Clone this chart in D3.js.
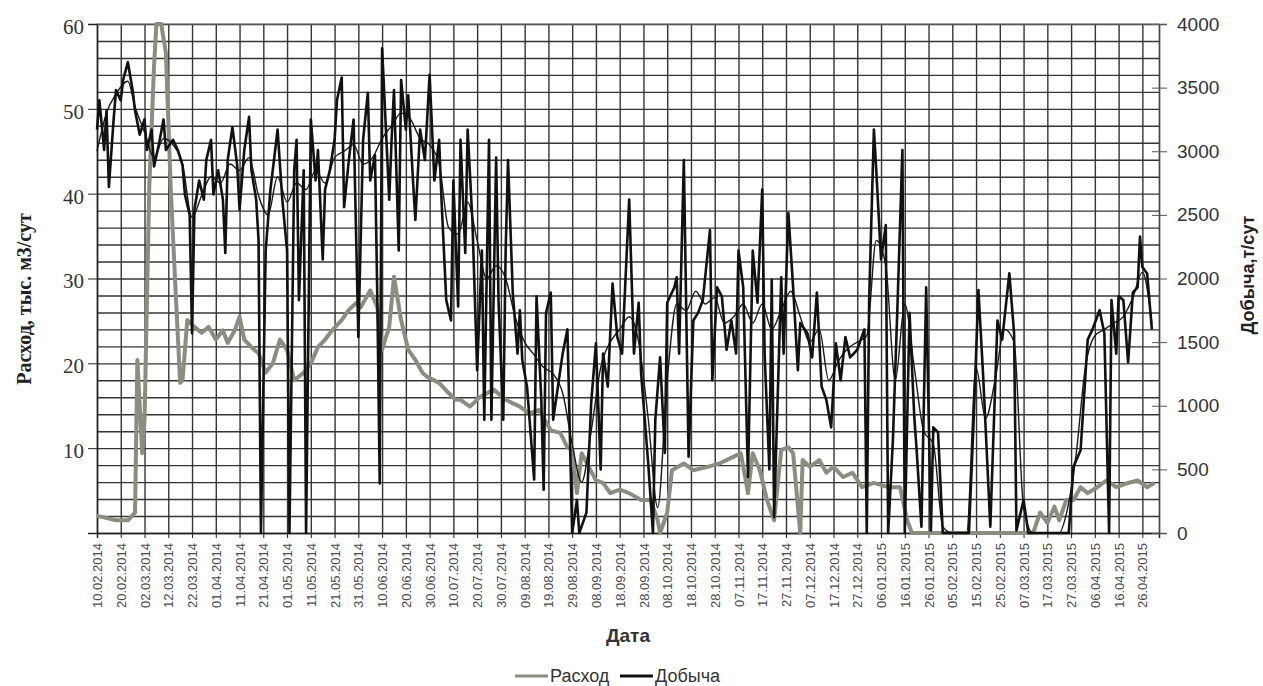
<!DOCTYPE html>
<html>
<head>
<meta charset="utf-8">
<script src="https://cdnjs.cloudflare.com/ajax/libs/d3/7.8.5/d3.min.js"></script>
<style>
  body { margin: 0; background: #fff; }
  svg { display: block; }
</style>
</head>
<body>
<div id="chart"></div>
<script>
// start of the series, data are [day offset, value]
var startDate = new Date(Date.UTC(2014, 1, 10));
var lastDay = 447;

// Расход, тыс. м3/сут (left axis)
var raskhod = [[0,2],[2,1.9],[8,1.5],[13,1.5],[16,2.4],[17,20.4],[18,15],[19,9.4],[20,13.3],[22,40.8],[24,55],[25,60],
  [27,60],[29,56.6],[31,40.8],[33,29],[35,17.7],[36,18],[38,25.1],[41,24.3],[44,23.6],[47,24.3],[50,22.8],[53,23.9],
  [55,22.4],[58,23.9],[60,25.5],[62,22.8],[65,21.9],[68,21.2],[71,18.9],[74,20],[77,22.8],[80,21.6],[83,18],[87,18.9],
  [90,20],[93,21.9],[96,22.8],[99,23.9],[103,25.1],[106,26.3],[109,27.1],[111,26.6],[115,28.6],[118,26.6],[120,21.6],
  [123,24.3],[125,30.2],[128,25.1],[131,21.6],[134,20.4],[137,18.9],[139,18.4],[144,17.7],[148,16.5],[151,15.7],
  [153,15.7],[157,14.9],[161,16],[167,16.9],[172,15.7],[178,14.9],[182,14.1],[186,14.5],[191,12.1],[195,11.8],
  [198,10.1],[200,9.8],[202,4.7],[204,9.4],[207,7.8],[210,6.2],[213,5.9],[216,4.7],[220,5.1],[224,4.7],[229,3.9],
  [233,3.9],[236,1.5],[237,0],[240,2.4],[242,7.4],[247,8.2],[251,7.4],[257,7.8],[262,8.2],[268,9],[271,9.4],[274,4.7],
  [276,9.4],[279,7.4],[282,3.9],[285,1.5],[288,9.8],[291,10.1],[293,9.4],[296,0],[297,8.6],[300,7.8],[304,8.6],
  [307,7.1],[310,7.8],[314,6.6],[318,7.1],[322,5.4],[327,5.9],[333,5.4],[338,5.4],[341,1.5],[343,0],[394,0],[397,2.4],
  [400,1.2],[403,3.1],[405,1.5],[408,3.9],[411,3.9],[414,5.4],[417,4.7],[421,5.4],[425,6.2],[429,5.4],[434,5.9],
  [438,6.2],[442,5.4],[445,5.9]];

// Добыча, т/сут (right axis)
var dobycha = [[0,3170],[1,3400],[3,3010],[4,3320],[5,2720],[7,3250],[8,3480],[10,3400],[11,3560],[13,3700],[15,3480],
  [16,3320],[18,3130],[20,3250],[21,3010],[23,3170],[24,2880],[26,3050],[28,3250],[29,3010],[32,3090],[34,3010],
  [36,2890],[37,2660],[39,2500],[40,1570],[41,2540],[43,2770],[45,2620],[46,2930],[48,3090],[49,2660],[51,2850],
  [53,2620],[54,2200],[55,2930],[57,3190],[59,2890],[60,2540],[62,3010],[64,3270],[65,2850],[67,2620],[68,2300],
  [69,0],[71,2220],[73,2700],[75,3010],[76,3170],[78,2620],[80,2220],[81,0],[83,2850],[84,3090],[85,1830],[87,2850],
  [88,0],[90,3250],[92,2770],[93,3010],[95,2150],[96,2700],[98,2850],[100,3090],[101,3400],[103,3580],[104,2560],
  [106,2930],[108,3250],[110,1540],[112,3090],[114,3460],[115,2770],[117,2970],[118,1830],[119,390],[120,3810],
  [123,2620],[124,3090],[125,3480],[127,2220],[128,3560],[130,3170],[131,3440],[133,2770],[134,2460],[136,3170],
  [138,2930],[140,3600],[142,2770],[144,3090],[145,2620],[147,1830],[149,1670],[150,2770],[152,1780],[153,3090],
  [155,2200],[156,3170],[158,2460],[160,1280],[162,2220],[163,890],[165,3090],[166,890],[168,2950],[169,1830],
  [171,890],[172,2220],[173,2930],[175,1890],[177,1410],[178,1750],[179,1360],[181,1150],[184,420],[185,1860],
  [187,1050],[188,340],[189,1730],[191,1890],[192,890],[194,1150],[196,1410],[198,1600],[200,0],[202,260],[203,0],
  [206,160],[208,1020],[210,1490],[212,500],[213,1410],[215,1150],[217,1960],[219,1540],[221,1410],[224,2620],
  [226,1410],[228,1810],[229,1260],[232,550],[234,0],[235,890],[237,1380],[239,630],[240,1810],[243,1930],[244,2010],
  [245,1410],[247,2930],[249,600],[251,1670],[253,1730],[255,1830],[258,2380],[259,1200],[261,1930],[263,1860],
  [265,1440],[267,1670],[269,1410],[270,2220],[272,1930],[274,440],[276,2220],[278,1810],[280,2700],[281,1410],
  [283,500],[284,1990],[285,125],[288,2010],[289,1410],[291,2515],[293,1930],[295,1280],[296,1650],[299,1570],
  [301,1380],[303,1890],[305,1150],[307,1045],[309,830],[311,1490],[313,1200],[315,1540],[317,1380],[320,1440],
  [323,1600],[324,0],[325,1830],[327,3170],[328,2850],[330,2150],[332,2420],[333,0],[335,730],[337,1830],[339,3010],
  [340,0],[342,1730],[344,910],[345,650],[347,50],[349,1930],[351,20],[352,830],[354,790],[356,0],[367,0],[369,890],
  [371,1910],[373,1230],[376,50],[379,1670],[381,1520],[384,2040],[386,1570],[387,20],[390,260],[392,0],[409,0],
  [411,520],[414,650],[417,1520],[419,1600],[422,1750],[424,1570],[426,0],[427,1830],[429,1410],[430,1860],[432,1830],
  [434,1340],[436,1890],[438,1930],[439,2330],[440,2090],[442,2040],[444,1600]];

// thinner companion line of Добыча seen under the main one (no legend entry)
var dobychaThin = [[0,3000],[4,3300],[8,3450],[13,3550],[16,3350],[20,3150],[24,2950],[28,3100],[32,3050],[36,2900],
  [40,2480],[44,2650],[48,2800],[52,2750],[56,2900],[60,2850],[64,2950],[68,2650],[72,2500],[76,2800],[80,2600],
  [84,2750],[88,2700],[92,2850],[96,2750],[100,2950],[104,3000],[108,3050],[112,2900],[116,2950],[120,3100],
  [124,3200],[128,3300],[132,3250],[136,3100],[140,3050],[144,2900],[148,2400],[152,2350],[156,2600],[160,2300],
  [164,2000],[168,2100],[172,2000],[176,1700],[180,1500],[184,1400],[188,1300],[192,1250],[196,1100],[200,700],
  [204,400],[208,800],[212,1300],[216,1500],[220,1600],[224,1700],[228,1500],[232,900],[236,200],[240,1200],
  [244,1800],[248,1750],[252,1900],[256,1800],[260,1850],[264,1650],[268,1700],[272,1800],[276,1650],[280,1800],
  [284,1600],[288,1750],[292,1900],[296,1700],[300,1500],[304,1600],[308,1200],[312,1350],[316,1450],[320,1500],
  [324,1550],[328,2300],[332,2100],[336,1200],[340,1800],[344,1300],[348,800],[352,700],[356,50],[360,0],[366,0],
  [370,1300],[374,900],[378,1200],[382,1600],[386,1500],[390,200],[394,0],[405,0],[408,150],[412,600],[416,1300],
  [420,1550],[424,1600],[428,1650],[432,1700],[436,1850],[440,2050],[444,1650]];

var leftTicks = [10, 20, 30, 40, 50, 60];
var rightTicks = [0, 500, 1000, 1500, 2000, 2500, 3000, 3500, 4000];
var tickDays = d3.range(0, 441, 10);
var seriesNames = ["Расход", "Добыча"];

var W = 1263, H = 686;
var margin = {top: 24, right: 104, bottom: 153, left: 97};
var width = W - margin.left - margin.right,
    height = H - margin.top - margin.bottom;

var svg = d3.select("#chart").append("svg")
    .attr("width", W)
    .attr("height", H);
var g = svg.append("g")
    .attr("transform", "translate(" + margin.left + "," + margin.top + ")");

var day = function(d){ return d3.utcDay.offset(startDate, d); };

var x = d3.scaleUtc().domain([startDate, day(lastDay)]).range([0, width]);
var yL = d3.scaleLinear().domain([0, 60]).range([height, 0]);
var yR = d3.scaleLinear().domain([0, 4000]).range([height, 0]);

// grid: horizontal every 2 units on the left axis, vertical every 10 days
g.append("g").attr("class", "grid")
  .call(d3.axisLeft(yL).tickValues(d3.range(0, 61, 2)).tickSize(-width).tickFormat(""))
  .call(function(s){ s.select(".domain").remove(); })
  .selectAll("line").attr("stroke", "#353535").attr("stroke-width", 1.4);

g.append("g").attr("class", "grid")
  .attr("transform", "translate(0," + height + ")")
  .call(d3.axisBottom(x).tickValues(tickDays.concat([lastDay]).map(day)).tickSize(-height).tickFormat(""))
  .call(function(s){ s.select(".domain").remove(); })
  .selectAll("line").attr("stroke", "#353535").attr("stroke-width", 1.4);

// X axis
var xAxis = g.append("g")
  .attr("transform", "translate(0," + height + ")")
  .call(d3.axisBottom(x).tickValues(tickDays.map(day)).tickSize(5).tickFormat(d3.utcFormat("%d.%m.%Y")));
xAxis.select(".domain").attr("stroke", "#222").attr("stroke-width", 1.5);
xAxis.selectAll("line").attr("stroke", "#222");
xAxis.selectAll("text")
  .attr("transform", "rotate(-90)")
  .attr("x", -10).attr("y", 0).attr("dy", "0.35em")
  .style("text-anchor", "end")
  .style("font-family", "Arial, 'Liberation Sans', sans-serif")
  .style("font-size", "13px")
  .attr("fill", "#4a4a4a");

// left axis
var lAxis = g.append("g")
  .call(d3.axisLeft(yL).tickValues(leftTicks).tickSize(9).tickPadding(4));
lAxis.select(".domain").attr("stroke", "#222").attr("stroke-width", 1.5);
lAxis.selectAll("line").attr("stroke", "#222");
lAxis.selectAll("text")
  .attr("dy", "0.45em")
  .style("font-family", "'Liberation Serif', 'Times New Roman', serif")
  .style("font-size", "21px")
  .attr("fill", "#333");

// right axis
var rAxis = g.append("g")
  .attr("transform", "translate(" + width + ",0)")
  .call(d3.axisRight(yR).tickValues(rightTicks).tickSize(8).tickPadding(10).tickFormat(d3.format("d")));
rAxis.select(".domain").attr("stroke", "#444").attr("stroke-width", 1.3);
rAxis.selectAll(".tick line").attr("x1", -7).attr("stroke", "#555");
rAxis.selectAll("text")
  .style("font-family", "Arial, 'Liberation Sans', sans-serif")
  .style("font-size", "19px")
  .attr("fill", "#333");

// top border
g.append("line").attr("x1", 0).attr("x2", width).attr("y1", 0).attr("y2", 0)
  .attr("stroke", "#777").attr("stroke-width", 1.2);

// lines
var lineL = d3.line().x(function(d){ return x(day(d[0])); }).y(function(d){ return yL(d[1]); });
var lineR = d3.line().x(function(d){ return x(day(d[0])); }).y(function(d){ return yR(d[1]); });

g.append("path").datum(raskhod)
  .attr("d", lineL).attr("fill", "none")
  .attr("stroke", "#8c8c80").attr("stroke-width", 4).attr("stroke-linejoin", "round");

g.append("path").datum(dobychaThin)
  .attr("d", lineR.curve(d3.curveMonotoneX)).attr("fill", "none")
  .attr("stroke", "#1a1a1a").attr("stroke-width", 1.4).attr("stroke-linejoin", "round");
lineR.curve(d3.curveLinear);

g.append("path").datum(dobycha)
  .attr("d", lineR).attr("fill", "none")
  .attr("stroke", "#111").attr("stroke-width", 2.6).attr("stroke-linejoin", "round");

// axis titles
svg.append("text")
  .attr("transform", "translate(31,299) rotate(-90)")
  .attr("text-anchor", "middle")
  .style("font-family", "'Liberation Serif', 'Times New Roman', serif")
  .style("font-weight", "bold").style("font-size", "20px")
  .attr("fill", "#222")
  .text("Расход, тыс. м3/сут");

svg.append("text")
  .attr("transform", "translate(1254,275) rotate(-90)")
  .attr("text-anchor", "middle")
  .style("font-family", "Arial, 'Liberation Sans', sans-serif")
  .style("font-weight", "bold").style("font-size", "18px")
  .attr("fill", "#222")
  .text("Добыча,т/сут");

svg.append("text")
  .attr("x", 628).attr("y", 642)
  .attr("text-anchor", "middle")
  .style("font-family", "Arial, 'Liberation Sans', sans-serif")
  .style("font-weight", "bold").style("font-size", "19px")
  .attr("fill", "#333")
  .text("Дата");

// legend
var legendX = [515, 620];
var legendColors = ["#8c8c80", "#111"];
var leg = svg.append("g").attr("transform", "translate(0,676)");
seriesNames.forEach(function(name, i){
  leg.append("line").attr("x1", legendX[i]).attr("x2", legendX[i] + 33)
    .attr("y1", 0).attr("y2", 0)
    .attr("stroke", legendColors[i]).attr("stroke-width", 3);
  leg.append("text").attr("x", legendX[i] + 35).attr("y", 6)
    .style("font-family", "Arial, 'Liberation Sans', sans-serif")
    .style("font-size", "18px")
    .attr("fill", "#333")
    .text(name);
});
</script>
</body>
</html>
